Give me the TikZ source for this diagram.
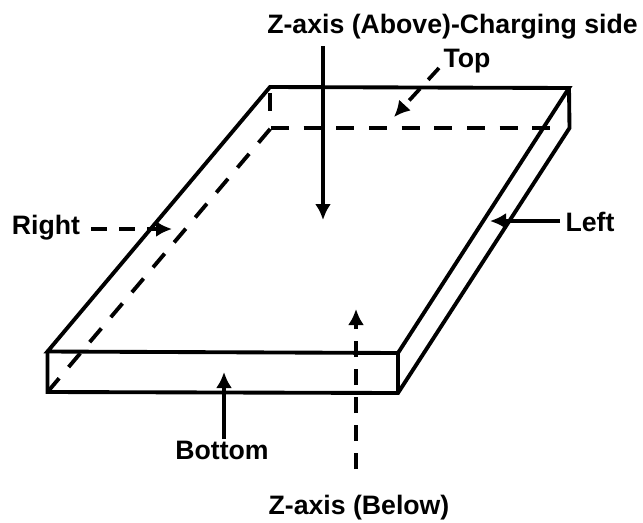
\documentclass[tikz,border=0pt]{standalone}
\usepackage{fontspec}
\setmainfont{Liberation Sans}
\usetikzlibrary{arrows.meta}
\tikzset{
 edgeline/.style={line width=2.9pt,black},
 hidden/.style={line width=2.9pt,black,dash pattern=on 13.5pt off 11pt},
 arrowline/.style={line width=2.6pt,black,-{Latex[length=12pt,width=12pt]}},
 darrowline/.style={line width=2.8pt,black,dash pattern=on 12pt off 9pt,-{Latex[length=12pt,width=12pt]}},
 lab/.style={font=\bfseries\fontsize{20pt}{22pt}\selectfont,inner sep=0pt,text=black,anchor=base}
}
\begin{document}
\begin{tikzpicture}[x=0.75pt,y=-0.75pt]
\useasboundingbox (0,0) rectangle (643,522);
\fill[white] (0,0) rectangle (643,522);
\coordinate (A) at (47.5,351.5);
\coordinate (B) at (398,353);
\coordinate (C) at (569,88);
\coordinate (D) at (270,87);
\coordinate (A2) at (47.5,392);
\coordinate (B2) at (398,393);
\coordinate (C2) at (569.5,128);
\coordinate (D2) at (271,128);
\coordinate (V1) at (270,93);
\coordinate (V2) at (270,111);
\coordinate (H1) at (551,128);
\draw[edgeline,line join=miter] (A) -- (B) -- (C) -- (D) -- cycle;
\draw[edgeline,line join=miter] (A) -- (A2) -- (B2) -- (C2) -- (C);
\draw[edgeline] (B) -- (B2);
\draw[hidden] (V1) -- (V2);
\draw[hidden] (D2) -- (H1);
\draw[hidden] (A2) -- (D2);
\node[lab,anchor=base east] (zabove) at (638,33) {Z-axis (Above)-Charging side};
\node[lab] (top) at (467,67) {Top};
\node[lab] (right) at (46,234) {Right};
\node[lab] (left) at (590,231) {Left};
\node[lab] (bottom) at (222,459) {Bottom};
\node[lab] (zbelow) at (359,514) {Z-axis (Below)};
\coordinate (z1) at (323,46);
\coordinate (z2) at (323,220);
\draw[arrowline] (z1) -- (z2);
\coordinate (t1) at (439,68);
\coordinate (t2) at (394,117);
\draw[darrowline] (t1) -- (t2);
\coordinate (r1) at (91,229);
\coordinate (r2) at (172,229);
\draw[darrowline] (r1) -- (r2);
\coordinate (l1) at (560,221);
\coordinate (l2) at (490,221);
\draw[arrowline] (l1) -- (l2);
\coordinate (b1) at (224,439);
\coordinate (b2) at (224,372);
\draw[arrowline] (b1) -- (b2);
\coordinate (zb1) at (356,469);
\coordinate (zb2) at (356,309);
\draw[darrowline] (zb1) -- (zb2);
\end{tikzpicture}
\end{document}
